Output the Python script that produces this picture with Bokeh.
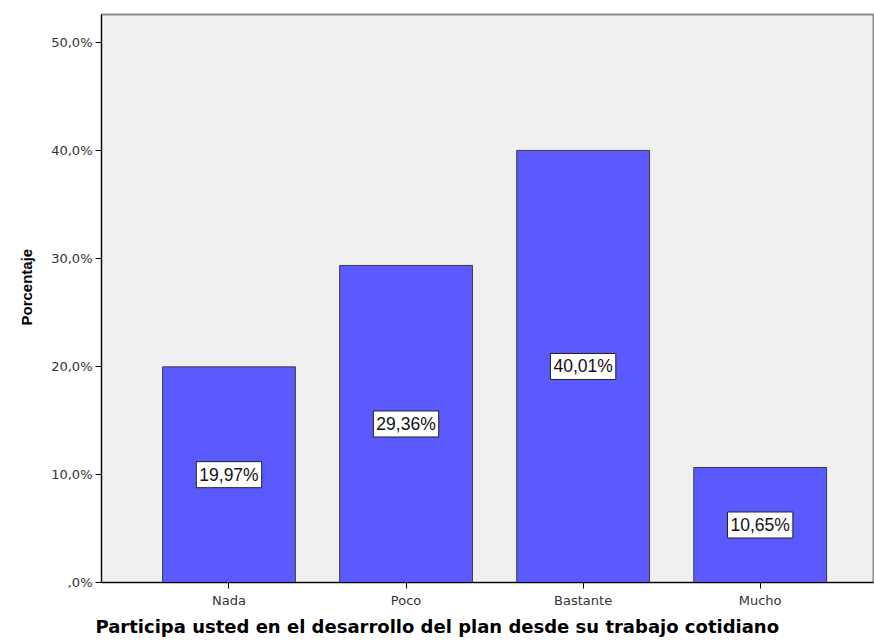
from bokeh.plotting import figure
from bokeh.models import ColumnDataSource, FixedTicker, Label, Range1d, Title
from bokeh.embed import file_html
from bokeh.resources import INLINE

categories = ["Nada", "Poco", "Bastante", "Mucho"]
percentages = [19.97, 29.36, 40.01, 10.65]
value_labels = ["19,97%", "29,36%", "40,01%", "10,65%"]
y_ticks = [0, 10, 20, 30, 40, 50]
y_tick_labels = [",0%", "10,0%", "20,0%", "30,0%", "40,0%", "50,0%"]
x_title = "Participa usted en el desarrollo del plan desde su trabajo cotidiano"
y_title = "Porcentaje"

xs = list(range(len(categories)))
src = ColumnDataSource(dict(x=xs, top=percentages))

p = figure(width=874, height=641, output_backend="svg", toolbar_location=None,
           x_range=Range1d(-0.72, 3.64), y_range=Range1d(0, 52.6),
           min_border_left=101, min_border_top=14, min_border_right=1, min_border_bottom=59)
p.background_fill_color = "#F0F0F0"
p.border_fill_color = "white"
p.outline_line_color = "#8A8A8A"
p.outline_line_width = 2
p.grid.visible = False

p.vbar(x="x", top="top", width=0.75, source=src, fill_color="#5A5AFF",
       line_color="#3A3A4A", line_width=1)

for x, v, lab in zip(xs, percentages, value_labels):
    p.add_layout(Label(x=x, y=v / 2, text=lab, text_align="center",
                       text_baseline="middle", text_font="Liberation Sans",
                       text_font_size="17.5px", text_color="#111111",
                       background_fill_color="white", border_line_color="#222222",
                       border_line_width=1, padding=3))

p.xaxis.ticker = FixedTicker(ticks=xs)
p.xaxis.major_label_overrides = {i: c for i, c in zip(xs, categories)}
p.yaxis.ticker = FixedTicker(ticks=y_ticks)
p.yaxis.major_label_overrides = {t: l for t, l in zip(y_ticks, y_tick_labels)}

for ax in (p.xaxis[0], p.yaxis[0]):
    ax.axis_line_color = "black"
    ax.axis_line_width = 1
    ax.major_tick_line_color = "black"
    ax.major_tick_out = 6
    ax.major_tick_in = 0
    ax.minor_tick_line_color = None
    ax.major_label_text_font = "DejaVu Sans"
    ax.major_label_text_font_size = "13px"
    ax.major_label_text_color = "#333333"

p.xaxis.major_label_standoff = 4
p.yaxis.major_label_standoff = 3

p.add_layout(Title(text=x_title, align="left", offset=-6, standoff=6,
                   text_font="DejaVu Sans", text_font_style="bold",
                   text_font_size="18px", text_color="black"), "below")
p.add_layout(Title(text=y_title, align="left", offset=257, standoff=28,
                   text_font="Liberation Sans", text_font_style="bold",
                   text_font_size="15px", text_color="black"), "left")

open("out.html", "w").write(file_html(p, INLINE))
